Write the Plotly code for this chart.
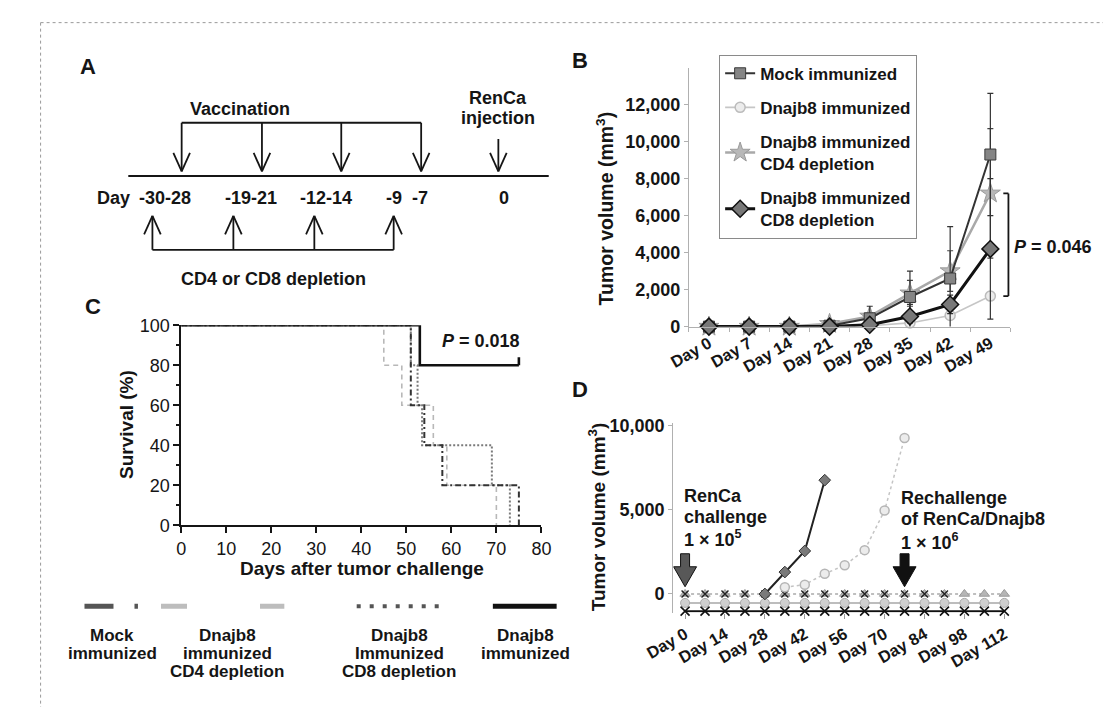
import plotly.graph_objects as go

W, H = 1113, 717
def px(x): return x / W
def py(y): return 1 - y / H

FONT = "Liberation Sans, Arial, Helvetica, sans-serif"
INK = "#151515"

# ---------------- Panel B data ----------------
b_days = ["Day 0", "Day 7", "Day 14", "Day 21", "Day 28", "Day 35", "Day 42", "Day 49"]
b_mock = [0, 0, 0, 50, 450, 1600, 2600, 9300]
b_mock_err = [0, 0, 0, 0, 650, 1400, 2800, 3300]
b_dnajb8 = [0, 0, 0, 0, 50, 200, 600, 1650]
b_dnajb8_err = [0, 0, 0, 0, 0, 100, 200, 200]
b_cd4 = [0, 0, 0, 150, 550, 1800, 3000, 7200]
b_cd4_err = [0, 0, 0, 0, 200, 700, 1100, 3500]
b_cd8 = [0, 0, 0, 0, 100, 550, 1200, 4200]
b_cd8_err = [0, 0, 0, 0, 100, 650, 500, 3800]
b_yticks = [0, 2000, 4000, 6000, 8000, 10000, 12000]
b_pvalue = "<i>P</i> = 0.046"

# ---------------- Panel C data (Kaplan-Meier) ----------------
c_mock_t = [0, 51, 54, 58, 75]
c_mock_s = [100, 60, 40, 20, 0]
c_cd4_t = [0, 45, 49, 56, 59, 70]
c_cd4_s = [100, 80, 60, 40, 20, 0]
c_cd8_t = [0, 51, 52.5, 53.5, 69, 73]
c_cd8_s = [100, 80, 60, 40, 20, 0]
c_dnajb8_t = [0, 53, 75]
c_dnajb8_s = [100, 80, 80]
c_censor_t = [75, 75]
c_censor_s = [80, 84]
c_pvalue = "<i>P</i> = 0.018"

# ---------------- Panel D data ----------------
d_days = [0, 7, 14, 21, 28, 35, 42, 49, 56, 63, 70, 77, 84, 91, 98, 105, 112]
d_tick_days = [0, 14, 28, 42, 56, 70, 84, 98, 112]
d_tick_text = ["Day 0", "Day 14", "Day 28", "Day 42", "Day 56", "Day 70", "Day 84", "Day 98", "Day 112"]
d_tri_vol = [0, 0, 0, 0, 0, 0, 0, 0, 0, 0, 0, 0, 0, 0, 0, 0, 0]
d_x0_days = [0, 7, 14, 21, 28, 35, 42, 49, 56, 63, 70, 77, 84, 91]
d_x0_vol = [0, 0, 0, 0, 0, 0, 0, 0, 0, 0, 0, 0, 0, 0]
d_circ_vol = [-530, -530, -530, -530, -530, -530, -530, -530, -530, -530, -530, -530, -530, -530, -530, -530, -530]
d_xrow_vol = [-1020, -1020, -1020, -1020, -1020, -1020, -1020, -1020, -1020, -1020, -1020, -1020, -1020, -1020, -1020, -1020, -1020]
d_mock_days = [28, 35, 42, 49]
d_mock_vol = [0, 1300, 2550, 6750]
d_grow_days = [35, 42, 49, 56, 63, 70, 77]
d_grow_vol = [400, 550, 1200, 1700, 2600, 4950, 9250]
d_yticks = [0, 5000, 10000]
d_arrow_days = [0, 77]

fig = go.Figure()

# ---------------- Panel B traces ----------------
def err(arr, color):
    return dict(type="data", array=arr, visible=True, color=color, thickness=1.2, width=3)

fig.add_trace(go.Scatter(
    x=b_days, y=b_dnajb8, name="Dnajb8 immunized", legendrank=2, legendgroup="g2",
    mode="lines+markers", line=dict(color="#c6c6c6", width=1.6),
    marker=dict(symbol="circle", size=10, color="#ececec", line=dict(color="#bcbcbc", width=1.5)),
    error_y=err(b_dnajb8_err, "#bbbbbb"), cliponaxis=False, xaxis="x", yaxis="y"))
fig.add_trace(go.Scatter(
    x=b_days, y=b_cd4, name="Dnajb8 immunized<br>CD4 depletion", legendrank=3, legendgroup="g3",
    mode="lines+markers", line=dict(color="#a9a9a9", width=2.5),
    marker=dict(symbol="star", size=15, color="#b8b8b8", line=dict(color="#9a9a9a", width=1)),
    error_y=err(b_cd4_err, "#444444"), cliponaxis=False, xaxis="x", yaxis="y"))
fig.add_trace(go.Scatter(
    x=b_days, y=b_mock, name="Mock immunized", legendrank=1, legendgroup="g1",
    mode="lines+markers", line=dict(color="#333333", width=2),
    marker=dict(symbol="square", size=11, color="#858585", line=dict(color="#3a3a3a", width=1)),
    error_y=err(b_mock_err, "#333333"), cliponaxis=False, xaxis="x", yaxis="y"))
fig.add_trace(go.Scatter(
    x=b_days, y=b_cd8, name="Dnajb8 immunized<br>CD8 depletion", legendrank=4, legendgroup="g4",
    mode="lines+markers", line=dict(color="#111111", width=3),
    marker=dict(symbol="diamond", size=13, color="#787878", line=dict(color="#111111", width=1.5)),
    error_y=err(b_cd8_err, "#333333"), cliponaxis=False, xaxis="x", yaxis="y"))

# ---------------- Panel C traces ----------------
fig.add_trace(go.Scatter(x=c_cd4_t, y=c_cd4_s, mode="lines", line_shape="hv",
    line=dict(color="#b8b8b8", width=1.6, dash="5px,4px"), showlegend=False, cliponaxis=False,
    xaxis="x2", yaxis="y2"))
fig.add_trace(go.Scatter(x=c_cd8_t, y=c_cd8_s, mode="lines", line_shape="hv",
    line=dict(color="#7a7a7a", width=2, dash="2px,2px"), showlegend=False, cliponaxis=False,
    xaxis="x2", yaxis="y2"))
fig.add_trace(go.Scatter(x=c_mock_t, y=c_mock_s, mode="lines", line_shape="hv",
    line=dict(color="#333333", width=2, dash="6px,3px,2px,3px"), showlegend=False, cliponaxis=False,
    xaxis="x2", yaxis="y2"))
fig.add_trace(go.Scatter(x=c_dnajb8_t, y=c_dnajb8_s, mode="lines", line_shape="hv",
    line=dict(color="#111111", width=2.6), showlegend=False, cliponaxis=False,
    xaxis="x2", yaxis="y2"))
fig.add_trace(go.Scatter(x=c_censor_t, y=c_censor_s, mode="lines",
    line=dict(color="#111111", width=2.6), showlegend=False, cliponaxis=False,
    xaxis="x2", yaxis="y2"))

# ---------------- Panel D traces ----------------
fig.add_trace(go.Scatter(x=d_days, y=d_xrow_vol, mode="lines+markers",
    line=dict(color="#111111", width=2),
    marker=dict(symbol="x-thin", size=9, line=dict(color="#111111", width=1.6)),
    showlegend=False, cliponaxis=False, xaxis="x3", yaxis="y3"))
fig.add_trace(go.Scatter(x=d_days, y=d_circ_vol, mode="lines+markers",
    line=dict(color="#bdbdbd", width=2),
    marker=dict(symbol="circle", size=9, color="#cfcfcf", line=dict(color="#a8a8a8", width=1)),
    showlegend=False, cliponaxis=False, xaxis="x3", yaxis="y3"))
fig.add_trace(go.Scatter(x=d_days, y=d_tri_vol, mode="lines+markers",
    line=dict(color="#aaaaaa", width=1.5, dash="dot"),
    marker=dict(symbol="triangle-up", size=9, color="#b5b5b5", line=dict(color="#999999", width=1)),
    showlegend=False, cliponaxis=False, xaxis="x3", yaxis="y3"))
fig.add_trace(go.Scatter(x=d_x0_days, y=d_x0_vol, mode="markers",
    marker=dict(symbol="x-thin", size=7, line=dict(color="#222222", width=1.4)),
    showlegend=False, cliponaxis=False, xaxis="x3", yaxis="y3"))
fig.add_trace(go.Scatter(x=d_grow_days, y=d_grow_vol, mode="lines+markers",
    line=dict(color="#c4c4c4", width=1.5, dash="dot"),
    marker=dict(symbol="circle", size=9, color="#ececec", line=dict(color="#b5b5b5", width=1.5)),
    showlegend=False, cliponaxis=False, xaxis="x3", yaxis="y3"))
fig.add_trace(go.Scatter(x=d_mock_days, y=d_mock_vol, mode="lines+markers",
    line=dict(color="#222222", width=2),
    marker=dict(symbol="diamond", size=9, color="#7a7a7a", line=dict(color="#333333", width=1)),
    showlegend=False, cliponaxis=False, xaxis="x3", yaxis="y3"))

# ---------------- annotations & shapes ----------------
ann = []
shapes = []

def text(x, y, s, size=18, weight="bold", xanchor="center", angle=0, color=INK):
    ann.append(dict(x=px(x), y=py(y), xref="paper", yref="paper", text=s, showarrow=False,
                    xanchor=xanchor, yanchor="middle", textangle=angle,
                    font=dict(family=FONT, size=size, color=color, weight=weight)))

def seg(x0, y0, x1, y1, width=1.8, color=INK, dash=None):
    ln = dict(color=color, width=width)
    if dash:
        ln["dash"] = dash
    shapes.append(dict(type="line", xref="paper", yref="paper",
                       x0=px(x0), y0=py(y0), x1=px(x1), y1=py(y1), line=ln))

# figure frame (top & left)
seg(12, 13, W, 13, width=1, color="#9a9a9a", dash="dot")
seg(12, 13, 12, H, width=1, color="#9a9a9a", dash="dot")

# panel letters
text(61, 58, "A", size=22)
text(571, 52, "B", size=22)
text(66, 305, "C", size=22)
text(571, 390, "D", size=22)

# ---- Panel A schedule ----
A_LINE_Y = 170.7
A_LINE_X = (102.9, 538.6)
A_VACC_X = [158.2, 241.4, 323.6, 406.4]
A_VACC_TOP = 116
A_VACC_TIP = 166
A_RENCA_X = 486.4
A_RENCA_TOP = 132.7
A_DEPL_X = [127.9, 211.8, 295.7, 377.9]
A_DEPL_BASE = 246.7
A_DEPL_TIP = 211.7
A_HEAD_W, A_HEAD_L = 8.6, 19
a_day_labels = ["Day", "-30-28", "-19-21", "-12-14", "-9", "-7", "0"]
A_DAY_X = [87.5, 141, 230.4, 307.9, 377.9, 405.4, 492.1]
A_DAY_Y = 193.3

seg(A_LINE_X[0], A_LINE_Y, A_LINE_X[1], A_LINE_Y, width=2)
seg(A_VACC_X[0], A_VACC_TOP, A_VACC_X[-1], A_VACC_TOP)
for xv in A_VACC_X:
    seg(xv, A_VACC_TOP, xv, A_VACC_TIP)
    seg(xv - A_HEAD_W, A_VACC_TIP - A_HEAD_L, xv, A_VACC_TIP)
    seg(xv + A_HEAD_W, A_VACC_TIP - A_HEAD_L, xv, A_VACC_TIP)
seg(A_RENCA_X, A_RENCA_TOP, A_RENCA_X, A_VACC_TIP)
seg(A_RENCA_X - A_HEAD_W, A_VACC_TIP - A_HEAD_L, A_RENCA_X, A_VACC_TIP)
seg(A_RENCA_X + A_HEAD_W, A_VACC_TIP - A_HEAD_L, A_RENCA_X, A_VACC_TIP)
seg(A_DEPL_X[0], A_DEPL_BASE, A_DEPL_X[-1], A_DEPL_BASE)
for xd in A_DEPL_X:
    seg(xd, A_DEPL_BASE, xd, A_DEPL_TIP)
    seg(xd - A_HEAD_W, A_DEPL_TIP + A_HEAD_L, xd, A_DEPL_TIP)
    seg(xd + A_HEAD_W, A_DEPL_TIP + A_HEAD_L, xd, A_DEPL_TIP)
for lab, xl in zip(a_day_labels, A_DAY_X):
    text(xl, A_DAY_Y, lab, size=18)
text(218.6, 101.7, "Vaccination", size=18)
text(486.4, 90.7, "RenCa", size=18)
text(486.4, 111, "injection", size=18)
text(252.9, 276.7, "CD4 or CD8 depletion", size=18)

# ---- Panel B extras ----
text(597, 204, "Tumor volume (mm<sup>3</sup>)", size=19.5, angle=-90)
B_BRACKET_X = (1009.7, 1015)
shapes.append(dict(type="line", xref="paper", yref="y", x0=px(B_BRACKET_X[1]), x1=px(B_BRACKET_X[1]),
                   y0=b_dnajb8[-1], y1=b_cd4[-1], line=dict(color=INK, width=1.8)))
for yv in (b_dnajb8[-1], b_cd4[-1]):
    shapes.append(dict(type="line", xref="paper", yref="y", x0=px(B_BRACKET_X[0]), x1=px(B_BRACKET_X[1]),
                       y0=yv, y1=yv, line=dict(color=INK, width=1.8)))
text(1018.5, 243.3, b_pvalue, size=18, xanchor="left")

# ---- Panel C extras ----
text(101.7, 426.7, "Survival (%)", size=19, angle=-90)
text(345, 575, "Days after tumor challenge", size=19)
text(468.3, 340.7, c_pvalue, size=18)

# bottom legend of panel C
c_leg_y = 613.3
seg(57.5, c_leg_y, 112.9, c_leg_y, width=5, color="#555555", dash="29px,21px,5px,60px")
seg(136.8, c_leg_y, 264.6, c_leg_y, width=5, color="#bdbdbd", dash="26px,73px")
seg(339.6, c_leg_y, 425.4, c_leg_y, width=4, color="#555555", dash="4px,9px")
seg(480.7, c_leg_y, 546.8, c_leg_y, width=5, color="#111111")
c_leg_x = [86.1, 205.7, 383.6, 514.6]
c_leg_text = [["Mock", "immunized"],
              ["Dnajb8", "immunized", "CD4 depletion"],
              ["Dnajb8", "Immunized", "CD8 depletion"],
              ["Dnajb8", "immunized"]]
C_LEG_LINE_Y = [643.3, 661.7, 680]
for xl, lines in zip(c_leg_x, c_leg_text):
    for yl, s in zip(C_LEG_LINE_Y, lines):
        text(xl, yl, s, size=17)

# ---- Panel D extras ----
text(589.5, 521, "Tumor volume (mm<sup>3</sup>)", size=19, angle=-90)
for yl, s in zip([500, 521.7, 543.3], ["RenCa", "challenge", "1 × 10<sup>5</sup>"]):
    text(676.4, yl, s, size=18, xanchor="left")
for yl, s in zip([501.7, 523.3, 546.7], ["Rechallenge", "of RenCa/Dnajb8", "1 × 10<sup>6</sup>"]):
    text(901.4, yl, s, size=18, xanchor="left")
# thick block arrows (pixel-sized, anchored at the injection days)
D_ARROW_TIP_Y = 593.3
D_ARROW_PATH = "M-4.5,33 L4.5,33 L4.5,20 L11.5,20 L0,0 L-11.5,20 L-4.5,20 Z"
for day, col in zip(d_arrow_days, ["#585858", "#111111"]):
    shapes.append(dict(type="path", xref="x3", yref="paper", xsizemode="pixel", ysizemode="pixel",
                       xanchor=day, yanchor=py(D_ARROW_TIP_Y), path=D_ARROW_PATH,
                       fillcolor=col, line=dict(color="#111111", width=1)))

tick_bold = dict(family=FONT, size=18, color=INK, weight="bold")
tick_bold_x = dict(family=FONT, size=16.5, color=INK, weight="bold")
tick_reg = dict(family=FONT, size=18, color=INK, weight="normal")

fig.update_layout(
    width=W, height=H, margin=dict(l=0, r=0, t=0, b=0),
    paper_bgcolor="white", plot_bgcolor="rgba(0,0,0,0)",
    font=dict(family=FONT, size=17, color=INK, weight="bold"),
    annotations=ann, shapes=shapes, showlegend=True,
    legend=dict(x=px(715.2), y=py(46), xanchor="left", yanchor="top",
                bordercolor="#8a8a8a", borderwidth=1, bgcolor="white",
                font=dict(family=FONT, size=17, color=INK, weight="bold"),
                tracegroupgap=9, itemwidth=30, traceorder="grouped"),
    # Panel B
    xaxis=dict(domain=[px(683.8), px(1017.1)], type="category", range=[-0.5, 7.5],
               anchor="y", showline=True, linecolor="#b0b0b0", linewidth=1,
               ticks="outside", tickson="boundaries", ticklen=4, tickcolor="#b0b0b0",
               tickangle=-30, tickfont=tick_bold_x, showgrid=False, zeroline=False),
    yaxis=dict(domain=[py(325.7), py(59.2)], range=[0, 14000], anchor="x",
               tickvals=b_yticks, tickformat=",d", showline=True, linecolor="#b0b0b0", linewidth=1,
               ticks="outside", ticklen=4, tickcolor="#b0b0b0", tickfont=tick_bold,
               showgrid=False, zeroline=False),
    # Panel C
    xaxis2=dict(domain=[px(157.7), px(531)], range=[0, 80], anchor="y2", dtick=10,
                showline=True, linecolor=INK, linewidth=1.5, ticks="outside", ticklen=6,
                tickwidth=1.5, tickcolor=INK, tickfont=tick_reg, showgrid=False, zeroline=False),
    yaxis2=dict(domain=[py(530), py(324.3)], range=[0, 100], anchor="x2", dtick=20,
                showline=True, linecolor=INK, linewidth=1.5, ticks="outside", ticklen=6,
                tickwidth=1.5, tickcolor=INK, tickfont=tick_reg, showgrid=False, zeroline=False,
                minor=dict(dtick=10, ticks="outside", ticklen=3, tickcolor=INK)),
    # Panel D
    xaxis3=dict(domain=[px(667.6), px(1020.2)], range=[-4.16, 115.2], anchor="y3",
                tickvals=d_tick_days, ticktext=d_tick_text, tickangle=-30, tickfont=tick_bold_x,
                showline=False, ticks="outside", ticklen=5, tickcolor="#999999",
                showgrid=False, zeroline=False),
    yaxis3=dict(domain=[py(619.8), py(424.7)], range=[-1100, 10150], anchor="x3",
                tickvals=d_yticks, tickformat=",d", showline=True, linecolor="#b0b0b0", linewidth=1,
                ticks="outside", ticklen=4, tickcolor="#b0b0b0", tickfont=tick_bold,
                showgrid=False, zeroline=False),
)

fig.write_html("out.html", config={"displayModeBar": False},
               post_script="document.body.style.margin='0';document.documentElement.style.margin='0';")
